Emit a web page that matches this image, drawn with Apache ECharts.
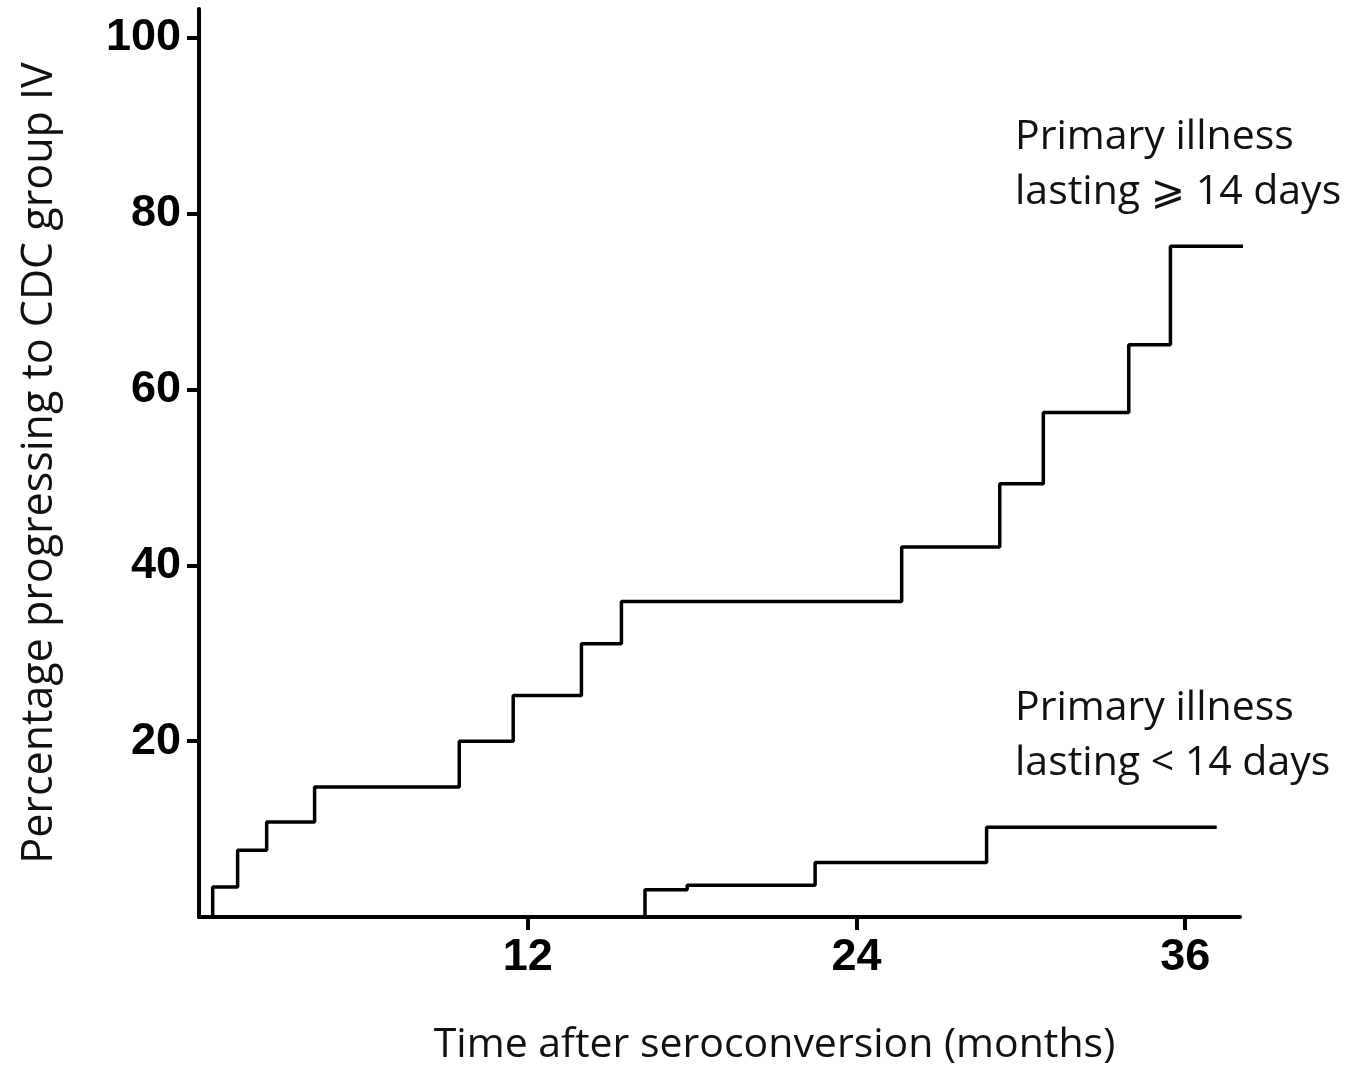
<!DOCTYPE html>
<html>
<head>
<meta charset="utf-8">
<script src="https://cdn.jsdelivr.net/npm/echarts@6/dist/echarts.min.js"></script>
<style>
html,body{margin:0;padding:0;background:#fff;}
#chart{width:1358px;height:1066px;}
</style>
</head>
<body>
<div id="chart"></div>
<script>
// Months after seroconversion at which the cumulative percentage changes
const longIllnessMonths = [0, 0.5, 1.41, 2.47, 4.22, 9.5, 11.47, 13.96, 15.42, 25.65, 29.23, 30.82, 33.94, 35.46, 38.4];
const longIllnessPct    = [0, 3.4, 7.6, 10.8, 14.8, 20.0, 25.2, 31.1, 35.9, 42.1, 49.3, 57.4, 65.1, 76.3, 76.3];
const shortIllnessMonths = [0, 16.28, 17.82, 22.49, 28.75, 37.15];
const shortIllnessPct    = [0, 3.1, 3.6, 6.2, 10.2, 10.2];
const xTickLabels = [12, 24, 36];
const yTickLabels = [20, 40, 60, 80, 100];
const seriesNames = ['Primary illness\nlasting \u2A7E 14 days', 'Primary illness\nlasting < 14 days'];

const pair = (xs, ys) => xs.map((x, i) => [x, ys[i]]);

const tickFont = "'Liberation Sans Narrow','Liberation Sans',Arial,sans-serif";
const textFont = "'Open Sans','Noto Sans',sans-serif";

const chart = echarts.init(document.getElementById('chart'));
chart.setOption({
  backgroundColor: '#fff',
  animation: false,
  grid: { left: 199, right: 118, top: 9, bottom: 149, containLabel: false, outerBoundsMode: 'none' },
  xAxis: {
    type: 'value', min: 0, max: 38, interval: 12,
    name: 'Time after seroconversion (months)',
    nameLocation: 'middle', nameGap: 108,
    nameTextStyle: { fontFamily: textFont, fontSize: 41, color: '#111', padding: [0, 0, 0, 110] },
    axisLine: { show: true, lineStyle: { color: '#000', width: 4 } },
    axisTick: { show: true, inside: false, length: 13, lineStyle: { color: '#000', width: 4 }, customValues: xTickLabels },
    axisLabel: { show: true, margin: 18, fontFamily: tickFont, fontWeight: 'bold', fontSize: 45, color: '#000', customValues: xTickLabels },
    splitLine: { show: false }
  },
  yAxis: {
    type: 'value', min: 0, max: 103.3, interval: 20,
    name: 'Percentage progressing to CDC group IV',
    nameLocation: 'middle', nameGap: 138,
    nameTextStyle: { fontFamily: textFont, fontSize: 43, color: '#111' },
    axisLine: { show: true, lineStyle: { color: '#000', width: 4 } },
    axisTick: { show: true, inside: false, length: 12, lineStyle: { color: '#000', width: 4 }, customValues: yTickLabels },
    axisLabel: { show: true, margin: 18, fontFamily: tickFont, fontWeight: 'bold', fontSize: 45, color: '#000', customValues: yTickLabels },
    splitLine: { show: false }
  },
  series: [
    {
      name: seriesNames[0], type: 'line', step: 'end', clip: false,
      data: pair(longIllnessMonths, longIllnessPct),
      symbol: 'none', lineStyle: { color: '#000', width: 3.5 }
    },
    {
      name: seriesNames[1], type: 'line', step: 'end', clip: false,
      data: pair(shortIllnessMonths, shortIllnessPct),
      symbol: 'none', lineStyle: { color: '#000', width: 3.5 }
    }
  ],
  graphic: [
    { type: 'text', left: 1015, top: 110, style: { text: seriesNames[0], font: "41px 'Open Sans','DejaVu Sans',sans-serif", fill: '#111', lineHeight: 55 } },
    { type: 'text', left: 1015, top: 681, style: { text: seriesNames[1], font: "41px 'Open Sans','DejaVu Sans',sans-serif", fill: '#111', lineHeight: 55 } }
  ]
});
</script>
</body>
</html>
